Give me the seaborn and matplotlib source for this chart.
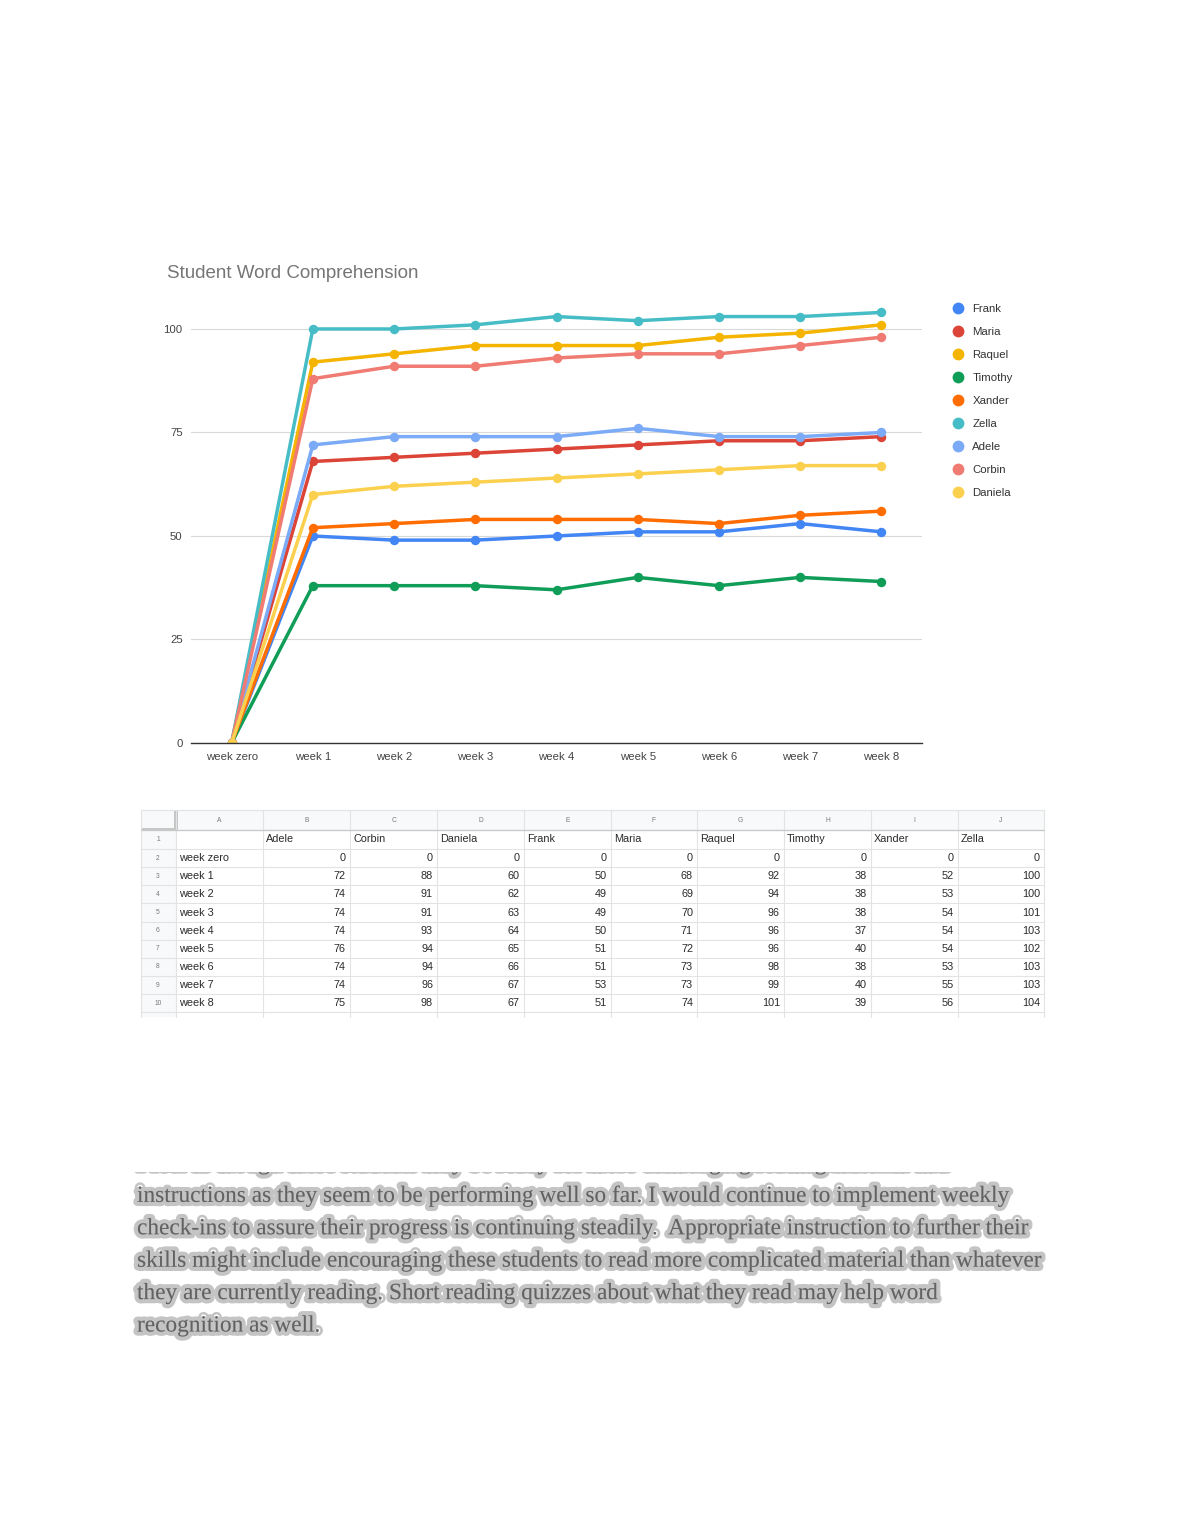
import pandas as pd
import seaborn as sns
import matplotlib.pyplot as plt
import matplotlib.patheffects as pe
from matplotlib.lines import Line2D

weeks = ["week zero", "week 1", "week 2", "week 3", "week 4",
         "week 5", "week 6", "week 7", "week 8"]
students = ["Adele", "Corbin", "Daniela", "Frank", "Maria",
            "Raquel", "Timothy", "Xander", "Zella"]
adele = [0, 72, 74, 74, 74, 76, 74, 74, 75]
corbin = [0, 88, 91, 91, 93, 94, 94, 96, 98]
daniela = [0, 60, 62, 63, 64, 65, 66, 67, 67]
frank = [0, 50, 49, 49, 50, 51, 51, 53, 51]
maria = [0, 68, 69, 70, 71, 72, 73, 73, 74]
raquel = [0, 92, 94, 96, 96, 96, 98, 99, 101]
timothy = [0, 38, 38, 38, 37, 40, 38, 40, 39]
xander = [0, 52, 53, 54, 54, 54, 53, 55, 56]
zella = [0, 100, 100, 101, 103, 102, 103, 103, 104]
scores = [adele, corbin, daniela, frank, maria, raquel, timothy, xander, zella]

legend_order = ["Frank", "Maria", "Raquel", "Timothy", "Xander",
                "Zella", "Adele", "Corbin", "Daniela"]
colors = {"Frank": "#4285F4", "Maria": "#DB4437", "Raquel": "#F4B400",
          "Timothy": "#0F9D58", "Xander": "#FF6D01", "Zella": "#46BDC6",
          "Adele": "#7BAAF7", "Corbin": "#F07B72", "Daniela": "#FCD04F"}
y_ticks = [0, 25, 50, 75, 100]
col_letters = ["A", "B", "C", "D", "E", "F", "G", "H", "I", "J"]

paragraph = [
    "I feel as though these students may be ready for more challenging reading material and",
    "instructions as they seem to be performing well so far. I would continue to implement weekly",
    "check-ins to assure their progress is continuing steadily.  Appropriate instruction to further their",
    "skills might include encouraging these students to read more complicated material than whatever",
    "they are currently reading. Short reading quizzes about what they read may help word",
    "recognition as well.",
]

df = pd.DataFrame({
    "week": weeks * len(students),
    "student": [s for s in students for _ in weeks],
    "score": [v for row in scores for v in row],
})

sns.set_style("white")
plt.rcParams["font.family"] = ["Liberation Sans", "DejaVu Sans"]

W, H = 1180, 1527
fig = plt.figure(figsize=(W / 100, H / 100), dpi=100)

# page-level axes in pixel coordinates for the table and text
bg = fig.add_axes([0, 0, 1, 1])
bg.set_xlim(0, W)
bg.set_ylim(H, 0)
bg.axis("off")

# ---- chart ----
ax = fig.add_axes([191 / W, 1 - 743 / H, (922 - 191) / W, (743 - 300) / H])
sns.lineplot(data=df, x="week", y="score", hue="student", hue_order=legend_order,
             palette=colors, marker="o", markersize=6.8, markeredgewidth=0,
             linewidth=2.5, sort=False, legend=False, ax=ax)
ax.set_xlim(-0.5, len(weeks) - 0.5)
ax.set_ylim(0, 107)
ax.set_yticks(y_ticks)
ax.grid(axis="y", color="#d9d9d9", linewidth=0.8)
ax.set_axisbelow(True)
for s in ["top", "right", "left"]:
    ax.spines[s].set_visible(False)
ax.spines["bottom"].set_color("#333333")
ax.spines["bottom"].set_linewidth(1.0)
ax.tick_params(axis="both", length=0, labelsize=8.2, colors="#444444")
ax.tick_params(axis="x", pad=6.5)
ax.tick_params(axis="y", pad=6)
ax.set_xlabel("")
ax.set_ylabel("")

fig.text(167 / W, 1 - 273 / H, "Student Word Comprehension", fontsize=13.5,
         color="#757575", va="center", ha="left")

handles = [Line2D([], [], marker="o", linestyle="", markersize=8.5,
                  markeredgewidth=0, color=colors[n]) for n in legend_order]
fig.legend(handles, legend_order, loc="upper left",
           bbox_to_anchor=(953 / W, 1 - 304 / H), frameon=False,
           fontsize=8.2, labelcolor="#333333", handlelength=0.8,
           handletextpad=0.9, labelspacing=1.14, borderaxespad=0, borderpad=0)

# ---- spreadsheet ----
col_edges = [141, 176, 263, 350, 437, 524, 611, 697, 784, 871, 958, 1044]
row_edges = [810, 830, 849] + [849 + 18.15 * k for k in range(1, 10)] + [1017]
grid_c = "#e2e3e3"
bg.add_patch(plt.Rectangle((141, 810), 1044 - 141, 20, color="#f8f9fa", lw=0))
bg.add_patch(plt.Rectangle((141, 810), 35, 1017 - 810, color="#f8f9fa", lw=0))
for x in col_edges:
    bg.plot([x, x], [810, 1017], color=grid_c, lw=0.8)
for y in row_edges[:-1]:
    bg.plot([141, 1044], [y, y], color=grid_c, lw=0.8)
bg.plot([141, 1044], [830, 830], color="#c8c8c8", lw=0.9)
bg.add_patch(plt.Rectangle((174, 810), 3.5, 21, color="#c4c7c5", lw=0))
bg.add_patch(plt.Rectangle((141, 828), 36, 3, color="#c4c7c5", lw=0))

for i, letter in enumerate(col_letters):
    cx = (col_edges[i + 1] + col_edges[i + 2]) / 2
    bg.text(cx, 820, letter, fontsize=4.8, color="#777777", ha="center", va="center")
for r in range(len(weeks) + 1):
    cy = (row_edges[r + 1] + row_edges[r + 2]) / 2
    bg.text(158, cy, str(r + 1), fontsize=4.8, color="#777777", ha="center", va="center")

cell_kw = dict(fontsize=7.8, color="#2a2a2a", va="center")
cy = (row_edges[1] + row_edges[2]) / 2
for j, name in enumerate(students):
    bg.text(col_edges[j + 2] + 3, cy, name, ha="left", **cell_kw)
for i, wk in enumerate(weeks):
    cy = (row_edges[i + 2] + row_edges[i + 3]) / 2
    bg.text(col_edges[1] + 3, cy, wk, ha="left", **cell_kw)
    for j in range(len(students)):
        bg.text(col_edges[j + 3] - 4, cy, str(scores[j][i]), ha="right", **cell_kw)

# ---- blurred paragraph ----
blur = [pe.withStroke(linewidth=6, foreground="#8a8a8a", alpha=0.5)]
for k, line in enumerate(paragraph):
    bg.text(137, 1164 + 32.4 * k, line, fontsize=16.8, family="Liberation Serif",
            color="#555555", alpha=0.8, va="center", ha="left", path_effects=blur)
bg.add_patch(plt.Rectangle((120, 1120), 960, 1172 - 1120, color="white", lw=0, zorder=5))

fig.savefig("out.png", dpi=100, facecolor="white")
